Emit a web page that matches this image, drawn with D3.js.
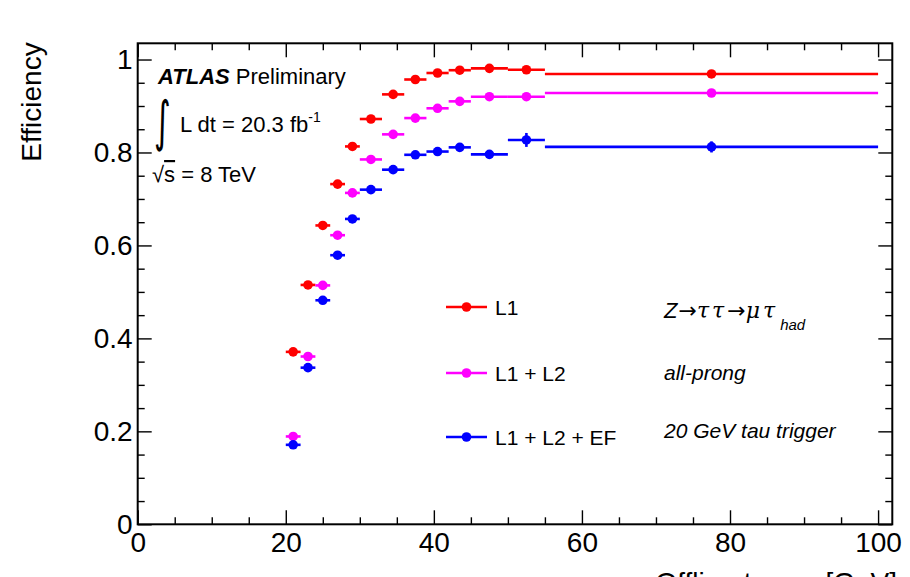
<!DOCTYPE html>
<html>
<head>
<meta charset="utf-8">
<script src="https://cdn.jsdelivr.net/npm/d3@7"></script>
<style>
  body { margin: 0; background: #fff; }
  svg { display: block; font-family: "Liberation Sans", Arial, sans-serif; }
  .axis path { display: none; }
  .axis line { stroke: #000; stroke-width: 1.4; }
  .axis text { font-size: 28px; fill: #000; }
</style>
</head>
<body>
<div id="chart"></div>
<script>
// bins in offline tau pT [GeV]
const binLow  = [20, 22, 24, 26, 28, 30, 33, 36, 39, 42, 45, 50, 55];
const binHigh = [22, 24, 26, 28, 30, 33, 36, 39, 42, 45, 50, 55, 100];

const effL1     = [0.371, 0.515, 0.643, 0.732, 0.813, 0.872, 0.925, 0.957, 0.971, 0.977, 0.981, 0.978, 0.969];
const effL1L2   = [0.189, 0.361, 0.514, 0.622, 0.713, 0.785, 0.839, 0.874, 0.895, 0.910, 0.920, 0.920, 0.928];
const effL1L2EF = [0.171, 0.337, 0.482, 0.579, 0.657, 0.720, 0.763, 0.795, 0.802, 0.811, 0.796, 0.827, 0.812];

const errL1     = [0.006, 0.007, 0.007, 0.006, 0.006, 0.005, 0.004, 0.004, 0.003, 0.003, 0.003, 0.004, 0.004];
const errL1L2   = [0.006, 0.008, 0.008, 0.007, 0.007, 0.006, 0.006, 0.005, 0.005, 0.005, 0.005, 0.006, 0.006];
const errL1L2EF = [0.006, 0.008, 0.008, 0.008, 0.008, 0.007, 0.007, 0.007, 0.007, 0.007, 0.008, 0.015, 0.012];

const seriesNames  = ["L1", "L1 + L2", "L1 + L2 + EF"];
const seriesColors = ["#ff0000", "#ff00ff", "#0000ff"];

const xMajor = [0, 20, 40, 60, 80, 100];
const yMajor = [0, 0.2, 0.4, 0.6, 0.8, 1];

const width = 910, height = 577;
const frame = { left: 137.7, right: 892.3, top: 43.3, bottom: 524.3 };

const x = d3.scaleLinear().domain([0, 101.92]).range([frame.left, frame.right]);
const y = d3.scaleLinear().domain([0, 1.0349]).range([frame.bottom, frame.top]);

const svg = d3.select("#chart").append("svg")
    .attr("width", width)
    .attr("height", height);

// axes, ROOT style: ticks inside on all four sides
const xMinor = d3.range(0, 101, 5).filter(v => !xMajor.includes(v));
const yMinor = d3.range(0, 1.03, 0.05).map(v => +v.toFixed(2)).filter(v => !yMajor.includes(v));

svg.append("g").attr("class", "axis")
    .attr("transform", `translate(0,${frame.bottom})`)
    .call(d3.axisBottom(x).tickValues(xMajor).tickSize(-14).tickPadding(8).tickFormat(d3.format("~g")));
svg.append("g").attr("class", "axis")
    .attr("transform", `translate(0,${frame.bottom})`)
    .call(d3.axisBottom(x).tickValues(xMinor).tickSize(-7).tickFormat(""));
svg.append("g").attr("class", "axis")
    .attr("transform", `translate(0,${frame.top})`)
    .call(d3.axisTop(x).tickValues(xMajor).tickSize(-14).tickFormat(""));
svg.append("g").attr("class", "axis")
    .attr("transform", `translate(0,${frame.top})`)
    .call(d3.axisTop(x).tickValues(xMinor).tickSize(-7).tickFormat(""));

svg.append("g").attr("class", "axis")
    .attr("transform", `translate(${frame.left},0)`)
    .call(d3.axisLeft(y).tickValues(yMajor).tickSize(-14).tickPadding(5).tickFormat(d3.format("~g")));
svg.append("g").attr("class", "axis")
    .attr("transform", `translate(${frame.left},0)`)
    .call(d3.axisLeft(y).tickValues(yMinor).tickSize(-7).tickFormat(""));
svg.append("g").attr("class", "axis")
    .attr("transform", `translate(${frame.right},0)`)
    .call(d3.axisRight(y).tickValues(yMajor).tickSize(-14).tickFormat(""));
svg.append("g").attr("class", "axis")
    .attr("transform", `translate(${frame.right},0)`)
    .call(d3.axisRight(y).tickValues(yMinor).tickSize(-7).tickFormat(""));

svg.append("rect")
    .attr("x", frame.left).attr("y", frame.top)
    .attr("width", frame.right - frame.left)
    .attr("height", frame.bottom - frame.top)
    .attr("fill", "none").attr("stroke", "#000").attr("stroke-width", 2);

// axis titles
svg.append("text")
    .attr("transform", `translate(41,${frame.top - 1}) rotate(-90)`)
    .attr("text-anchor", "end")
    .attr("font-size", 28)
    .text("Efficiency");

const xt = svg.append("text")
    .attr("x", 897).attr("y", 592)
    .attr("text-anchor", "end")
    .attr("font-size", 28);
xt.append("tspan").text("Offline tau p");
xt.append("tspan").attr("font-size", 19).attr("dy", 6).text("T");
xt.append("tspan").attr("dy", -6).text(" [GeV]");

// data
const series = [effL1, effL1L2, effL1L2EF].map((vals, s) => ({
    name: seriesNames[s],
    color: seriesColors[s],
    points: vals.map((v, i) => ({
        lo: binLow[i], hi: binHigh[i],
        c: (binLow[i] + binHigh[i]) / 2,
        v: v,
        e: [errL1, errL1L2, errL1L2EF][s][i]
    }))
}));

const sg = svg.selectAll(".series")
    .data(series)
    .enter().append("g")
    .attr("class", "series")
    .attr("stroke", d => d.color)
    .attr("fill", d => d.color);

sg.selectAll(".xerr")
    .data(d => d.points)
    .enter().append("line")
    .attr("x1", d => x(d.lo)).attr("x2", d => x(d.hi))
    .attr("y1", d => y(d.v)).attr("y2", d => y(d.v))
    .attr("stroke-width", 2.6);

sg.selectAll(".yerr")
    .data(d => d.points)
    .enter().append("line")
    .attr("x1", d => x(d.c)).attr("x2", d => x(d.c))
    .attr("y1", d => y(d.v - d.e)).attr("y2", d => y(d.v + d.e))
    .attr("stroke-width", 2.6);

sg.selectAll("circle")
    .data(d => d.points)
    .enter().append("circle")
    .attr("cx", d => x(d.c)).attr("cy", d => y(d.v))
    .attr("r", 4.8)
    .attr("stroke", "none");

// legend
const legY = [307, 373, 437];
const leg = svg.selectAll(".leg")
    .data(series)
    .enter().append("g")
    .attr("transform", (d, i) => `translate(446,${legY[i]})`);
leg.append("line")
    .attr("x1", 0).attr("x2", 41)
    .attr("stroke", d => d.color).attr("stroke-width", 2.6);
leg.append("circle")
    .attr("cx", 20.5).attr("r", 4.8).attr("fill", d => d.color);
leg.append("text")
    .attr("x", 49).attr("y", 8)
    .attr("font-size", 21)
    .text(d => d.name);

// ATLAS label
const atl = svg.append("text").attr("x", 158).attr("y", 84).attr("font-size", 22);
atl.append("tspan").attr("font-weight", "bold").attr("font-style", "italic").text("ATLAS");
atl.append("tspan").text(" Preliminary");

svg.append("text")
    .attr("x", 154).attr("y", 140)
    .attr("font-family", "DejaVu Sans")
    .attr("font-size", 32)
    .attr("transform", "translate(0,-98) scale(1,1.7)")
    .text("∫");
const lum = svg.append("text").attr("x", 180).attr("y", 132).attr("font-size", 22);
lum.append("tspan").text("L dt = 20.3 fb");
lum.append("tspan").attr("font-size", 14).attr("dy", -10).text("-1");

const rs = svg.append("text").attr("x", 152).attr("y", 182).attr("font-size", 22);
rs.append("tspan").text("√");
rs.append("tspan").attr("text-decoration", "overline").text("s");
rs.append("tspan").text(" = 8 TeV");

// process / selection text
const proc = svg.append("text").attr("x", 664).attr("y", 318)
    .attr("font-size", 22).attr("font-style", "italic");
proc.append("tspan").text("Z");
proc.append("tspan").attr("font-family", "DejaVu Sans").attr("font-style", "normal").attr("dx", 1).text("→");
proc.append("tspan").attr("font-family", "DejaVu Serif").attr("letter-spacing", 3).text("ττ");
proc.append("tspan").attr("font-family", "DejaVu Sans").attr("font-style", "normal").text("→");
proc.append("tspan").attr("font-family", "DejaVu Serif").attr("letter-spacing", 3).text("μτ");
proc.append("tspan").attr("font-size", 15).attr("dx", 2).attr("dy", 12).text("had");

svg.append("text").attr("x", 664).attr("y", 380)
    .attr("font-size", 21).attr("font-style", "italic")
    .text("all-prong");
svg.append("text").attr("x", 664).attr("y", 438)
    .attr("font-size", 21).attr("font-style", "italic")
    .text("20 GeV tau trigger");
</script>
</body>
</html>
